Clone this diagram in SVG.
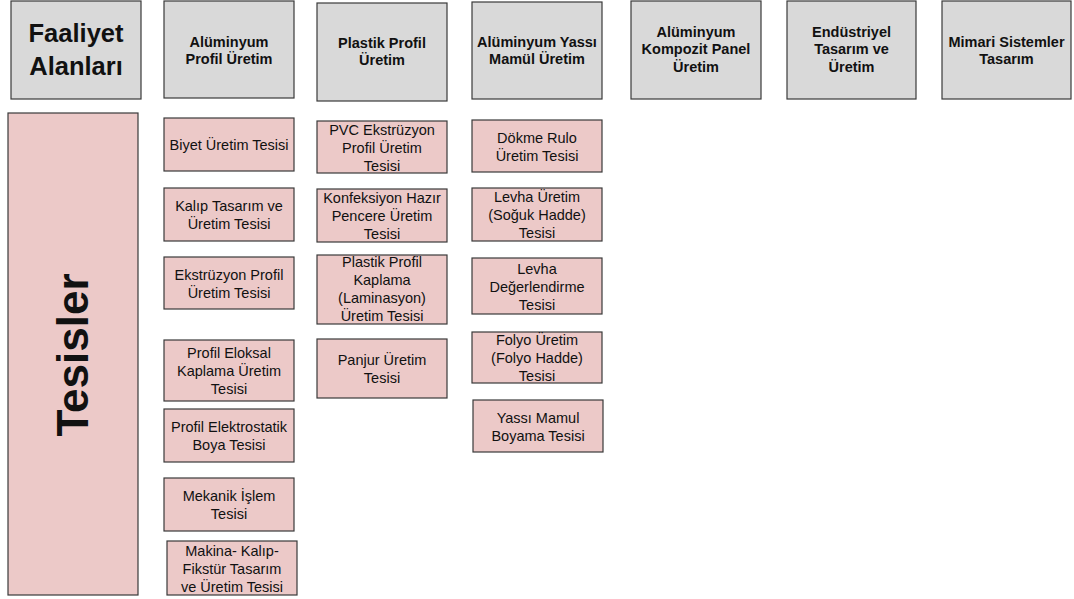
<svg xmlns="http://www.w3.org/2000/svg" width="1074" height="599" viewBox="0 0 1074 599">
<style>
.hd{fill:#d9d9d9;stroke:#3a3a3a;stroke-width:1.2}
.fc{fill:#ecc9c8;stroke:#3a3a3a;stroke-width:1.2}
.ht{font-family:"Liberation Sans",Arial,sans-serif;font-weight:bold;font-size:14.5px;fill:#111;text-anchor:middle}
.ft{font-family:"Liberation Sans",Arial,sans-serif;font-size:14.5px;fill:#111;text-anchor:middle}
.big{font-family:"Liberation Sans",Arial,sans-serif;font-weight:bold;fill:#111;text-anchor:middle}
</style>
<rect width="1074" height="599" fill="#ffffff"/>
<g id="connectors"></g>
<g id="faaliyet-alanlari">
<rect class="hd" x="11" y="1" width="130" height="98"/>
<text class="big" font-size="25.5" x="76" y="41.5">Faaliyet</text>
<text class="big" font-size="25.5" x="76" y="74.5">Alanları</text>
</g>
<g id="h-al-profil">
<rect class="hd" x="164" y="1" width="130" height="97"/>
<text class="ht" x="229" y="47">Alüminyum</text>
<text class="ht" x="229" y="64">Profil Üretim</text>
</g>
<g id="h-plastik">
<rect class="hd" x="317" y="3" width="130" height="98"/>
<text class="ht" x="382" y="47.5">Plastik Profil</text>
<text class="ht" x="382" y="64.5">Üretim</text>
</g>
<g id="h-yassi">
<rect class="hd" x="472" y="2" width="130" height="97"/>
<text class="ht" x="537" y="47">Alüminyum Yassı</text>
<text class="ht" x="537" y="64">Mamül Üretim</text>
</g>
<g id="h-kompozit">
<rect class="hd" x="631" y="1" width="130" height="98"/>
<text class="ht" x="696" y="36.5">Alüminyum</text>
<text class="ht" x="696" y="54">Kompozit Panel</text>
<text class="ht" x="696" y="71.5">Üretim</text>
</g>
<g id="h-endustriyel">
<rect class="hd" x="787" y="1" width="129" height="98"/>
<text class="ht" x="851.5" y="36.5">Endüstriyel</text>
<text class="ht" x="851.5" y="54">Tasarım ve</text>
<text class="ht" x="851.5" y="71.5">Üretim</text>
</g>
<g id="h-mimari">
<rect class="hd" x="942" y="1" width="129" height="98"/>
<text class="ht" x="1006.5" y="47">Mimari Sistemler</text>
<text class="ht" x="1006.5" y="64">Tasarım</text>
</g>
<g id="tesisler">
<rect class="fc" x="8" y="113" width="130" height="482"/>
<text class="big" font-size="44" transform="translate(88,355) rotate(-90)">Tesisler</text>
</g>
<g id="biyet">
<rect class="fc" x="164" y="118" width="130" height="53"/>
<text class="ft" x="229" y="150">Biyet Üretim Tesisi</text>
</g>
<g id="kalip">
<rect class="fc" x="164" y="188" width="130" height="53"/>
<text class="ft" x="229" y="211">Kalıp Tasarım ve</text>
<text class="ft" x="229" y="229">Üretim Tesisi</text>
</g>
<g id="ekstruzyon">
<rect class="fc" x="164" y="257" width="130" height="52"/>
<text class="ft" x="229" y="279.5">Ekstrüzyon Profil</text>
<text class="ft" x="229" y="297.5">Üretim Tesisi</text>
</g>
<g id="eloksal">
<rect class="fc" x="164" y="340" width="130" height="61"/>
<text class="ft" x="229" y="358">Profil Eloksal</text>
<text class="ft" x="229" y="376">Kaplama Üretim</text>
<text class="ft" x="229" y="394">Tesisi</text>
</g>
<g id="elektrostatik">
<rect class="fc" x="164" y="409" width="130" height="53"/>
<text class="ft" x="229" y="432">Profil Elektrostatik</text>
<text class="ft" x="229" y="450">Boya Tesisi</text>
</g>
<g id="mekanik">
<rect class="fc" x="164" y="478" width="130" height="53"/>
<text class="ft" x="229" y="501">Mekanik İşlem</text>
<text class="ft" x="229" y="519">Tesisi</text>
</g>
<g id="makina">
<rect class="fc" x="167" y="541" width="130" height="54"/>
<text class="ft" x="232" y="555.5">Makina- Kalıp-</text>
<text class="ft" x="232" y="573.5">Fikstür Tasarım</text>
<text class="ft" x="232" y="591.5">ve Üretim Tesisi</text>
</g>
<g id="pvc">
<rect class="fc" x="317" y="121" width="130" height="52"/>
<text class="ft" x="382" y="134.5">PVC Ekstrüzyon</text>
<text class="ft" x="382" y="152.5">Profil Üretim</text>
<text class="ft" x="382" y="170.5">Tesisi</text>
</g>
<g id="konfeksiyon">
<rect class="fc" x="317" y="189" width="130" height="53"/>
<text class="ft" x="382" y="203">Konfeksiyon Hazır</text>
<text class="ft" x="382" y="221">Pencere Üretim</text>
<text class="ft" x="382" y="239">Tesisi</text>
</g>
<g id="laminasyon">
<rect class="fc" x="317" y="255" width="130" height="69"/>
<text class="ft" x="382" y="267">Plastik Profil</text>
<text class="ft" x="382" y="285">Kaplama</text>
<text class="ft" x="382" y="303">(Laminasyon)</text>
<text class="ft" x="382" y="321">Üretim Tesisi</text>
</g>
<g id="panjur">
<rect class="fc" x="317" y="339" width="130" height="59"/>
<text class="ft" x="382" y="365">Panjur Üretim</text>
<text class="ft" x="382" y="383">Tesisi</text>
</g>
<g id="dokme">
<rect class="fc" x="472" y="120" width="130" height="52"/>
<text class="ft" x="537" y="142.5">Dökme Rulo</text>
<text class="ft" x="537" y="160.5">Üretim Tesisi</text>
</g>
<g id="levha-uretim">
<rect class="fc" x="472" y="188" width="130" height="53"/>
<text class="ft" x="537" y="202">Levha Üretim</text>
<text class="ft" x="537" y="220">(Soğuk Hadde)</text>
<text class="ft" x="537" y="238">Tesisi</text>
</g>
<g id="levha-degerlendirme">
<rect class="fc" x="472" y="258" width="130" height="56"/>
<text class="ft" x="537" y="273.5">Levha</text>
<text class="ft" x="537" y="291.5">Değerlendirme</text>
<text class="ft" x="537" y="309.5">Tesisi</text>
</g>
<g id="folyo">
<rect class="fc" x="472" y="332" width="130" height="51"/>
<text class="ft" x="537" y="345">Folyo Üretim</text>
<text class="ft" x="537" y="363">(Folyo Hadde)</text>
<text class="ft" x="537" y="381">Tesisi</text>
</g>
<g id="yassi-boyama">
<rect class="fc" x="473" y="400" width="130" height="52"/>
<text class="ft" x="538" y="422.5">Yassı Mamul</text>
<text class="ft" x="538" y="440.5">Boyama Tesisi</text>
</g>
</svg>
